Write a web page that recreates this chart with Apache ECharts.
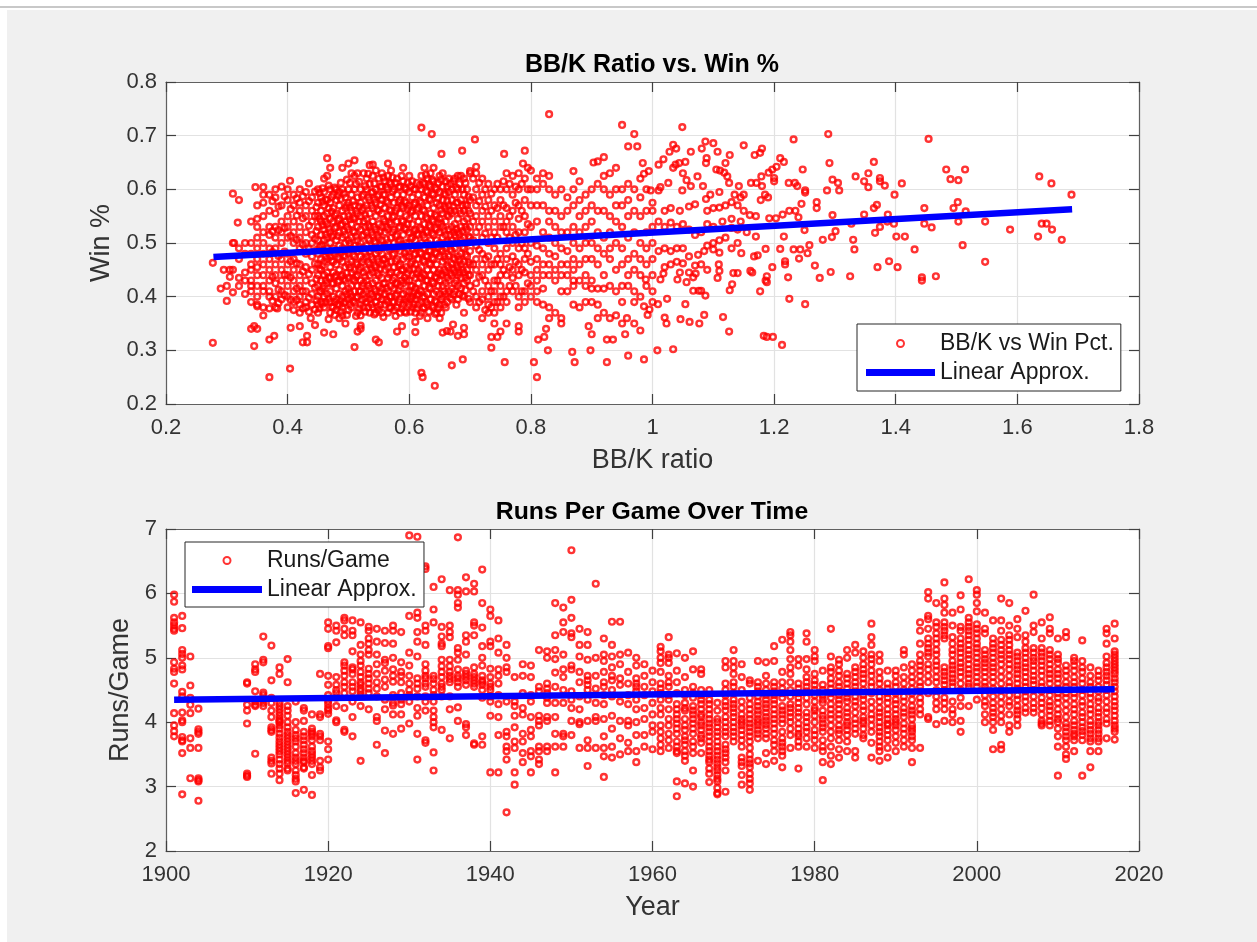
<!DOCTYPE html>
<html><head><meta charset="utf-8">
<style>html,body{margin:0;padding:0;background:#fff}#c{width:1257px;height:942px}</style>
<script src="https://cdn.jsdelivr.net/npm/echarts@6/dist/echarts.min.js"></script>
</head><body><div id="c"></div>
<script>
const title1='BB/K Ratio vs. Win %', title2='Runs Per Game Over Time';
const fit1=[[0.278,0.474],[1.69,0.563]];
const fit2=[[1901,4.35],[2017,4.51]];
// individually read points, mostly edges of the cloud
const bbkSparse=[[.277,.314],[.277,.463],[.345,.308],[.37,.25],[.404,.266],[.378,.327],[.37,.32],[.34,.34],[.345,.345],[.35,.34],[.425,.315],[.432,.315],[.432,.327],[.405,.342],[.42,.345],[.46,.333],[.475,.33],[.438,.36],[.445,.347],[.51,.306],[.515,.335],[.52,.34],[.52,.346],[.545,.32],[.55,.315],[.58,.335],[.588,.345],[.593,.312],[.61,.334],[.61,.353],[.62,.258],[.622,.25],[.642,.234],[.67,.272],[.688,.283],[.68,.327],[.69,.33],[.69,.342],[.655,.333],[.662,.336],[.668,.335],[.672,.348],[.735,.305],[.735,.325],[.745,.325],[.75,.335],[.757,.278],[.76,.35],[.78,.345],[.78,.335],[.805,.278],[.81,.25],[.812,.32],[.828,.3],[.825,.34],[.822,.325],[.868,.297],[.872,.278],[.898,.3],[.9,.33],[.895,.345],[.925,.32],[.935,.32],[.925,.278],[.96,.29],[.955,.33],[.958,.36],
[.62,.715],[.637,.703],[.83,.74],[.708,.693],[.687,.672],[.653,.666],[.756,.666],[.79,.672],[.465,.658],[.47,.64],[.51,.654],[.5,.648],[.49,.64],[.54,.646],[.565,.648],[.95,.72],[.97,.703],[.96,.68],[.975,.68],[.92,.66],[.91,.652],[.903,.65],[.787,.648],[.795,.64],[.71,.642],[.7,.634],[.83,.625],[.87,.634],[.31,.592],[.347,.604],[.36,.604],[.404,.616],[.435,.611],[.318,.538],[.312,.5],[.31,.5],[.3,.392],[.29,.415],[.3,.42],[.31,.408],[.305,.45],[.295,.45],[.31,.45],[.305,.437],[.35,.382],[.37,.378],[.383,.378],
[1.049,.716],[1.454,.694],[1.289,.703],[1.232,.693],[1.15,.682],[1.1,.686],[1.087,.689],[1.081,.676],[1.034,.683],[1.039,.676],[1.028,.67],[1.063,.67],[1.107,.67],[1.127,.664],[1.168,.664],[1.177,.668],[1.18,.676],[1.089,.658],[1.088,.649],[1.12,.649],[1.054,.651],[1.044,.649],[1.038,.646],[1.034,.64],[1.018,.656],[1.01,.646],[.984,.649],[1.21,.658],[1.216,.651],[1.204,.642],[1.197,.637],[1.191,.631],[1.179,.624],[1.2,.621],[1.2,.615],[1.105,.637],[1.111,.635],[1.118,.631],[1.123,.624],[1.126,.612],[1.05,.63],[1.056,.617],[1.074,.624],[1.063,.606],[1.083,.606],[1.049,.598],[1.026,.612],[1.013,.604],[1.01,.598],[.997,.598],[.994,.634],[.986,.629],[1.142,.606],[1.162,.612],[1.171,.612],[1.18,.606],[1.247,.637],[1.291,.649],[1.364,.651],[1.355,.63],[1.334,.624],[1.348,.615],[1.355,.604],[1.374,.621],[1.374,.615],[1.382,.607],[1.41,.611],[1.398,.59],[1.483,.637],[1.514,.637],[1.49,.619],[1.503,.617],[1.636,.624],[1.656,.611],[1.689,.59],[1.296,.618],[1.305,.612],[1.307,.598],[1.287,.598],[1.251,.598],[1.251,.594],[1.238,.606],[1.224,.612],[1.234,.612],[1.27,.576],[1.27,.565],[1.245,.573],[1.296,.552],[1.348,.553],[1.364,.565],[1.369,.571],[1.387,.553],[1.386,.54],[1.447,.565],[1.502,.576],[1.495,.565],[1.515,.559],[1.503,.54],[1.547,.54],[1.588,.525],[1.447,.536],[1.459,.529],[1.64,.536],[1.648,.536],[1.657,.525],[1.634,.512],[1.673,.506],[1.397,.536],[1.374,.53],[1.366,.519],[1.327,.536],[1.301,.522],[1.295,.511],[1.28,.506],[1.33,.506],[1.332,.488],[1.401,.512],[1.415,.512],[1.431,.488],[1.51,.496],[1.547,.465],[1.389,.466],[1.37,.455],[1.403,.455],[1.325,.438],[1.293,.446],[1.275,.435],[1.267,.458],[1.258,.496],[1.255,.481],[1.241,.471],[1.243,.488],[1.232,.488],[1.21,.489],[1.186,.489],[1.173,.477],[1.167,.475],[1.146,.481],[1.14,.5],[1.216,.512],[1.25,.524],[1.24,.548],[1.214,.553],[1.203,.546],[1.192,.546],[1.225,.56],[1.235,.56],[1.443,.436],[1.443,.43],[1.466,.438],[1.251,.386],[1.225,.396],[1.223,.436],[1.218,.46],[1.218,.466],[1.197,.455],[1.188,.438],[1.188,.427],[1.186,.43],[1.177,.41],[1.161,.448],[1.164,.445],[1.133,.444],[1.14,.444],[1.131,.423],[1.127,.412],[1.107,.435],[1.109,.46],[1.11,.448],[1.087,.402],[1.08,.411],[1.076,.411],[1.067,.411],[1.071,.443],[1.067,.436],[1.056,.427],[1.041,.432],[1.018,.443],[1.013,.432],[.989,.432],[1.054,.386],[1.024,.396],[1.009,.386],[1,.39],[.995,.376],[.992,.366],[.986,.382],[1.02,.361],[1.023,.35],[1.046,.358],[1.061,.353],[1.077,.35],[1.085,.366],[1.116,.362],[1.126,.335],[1.183,.327],[1.188,.325],[1.198,.325],[1.213,.31],[1.034,.302],[1.008,.3],[.986,.283],[.98,.337],
[1.13,.576],[1.12,.57],[1.11,.566],[1.1,.565],[1.09,.56],[1.14,.57],[1.15,.56],[1.16,.552],[1.17,.55],[1.178,.58],[1.185,.59],[1.19,.585],[1.135,.59],[1.145,.585],[1.15,.59],[1.11,.595],[1.095,.59],[1.088,.582],[1.07,.572],[1.06,.568],[1.045,.56],[1.03,.565],[1.02,.56],[1,.575],[1.13,.528],[1.14,.525],[1.155,.52],[1.17,.512],[1.12,.51],[1.11,.505],[1.1,.5],[1.09,.495],[1.13,.49],[1.11,.482],[1.1,.488],[1.085,.485],[1.075,.478],[1.06,.475],[1.05,.49],[1.04,.49],[1.03,.485],[1.02,.49],[1.01,.485],[1.08,.52],[1.07,.515],[1.06,.525],[1.05,.535],[1.04,.53],[1.03,.538],[1.02,.53],[1.01,.54],[1.09,.535],[1.1,.53],[1.115,.54],[1.13,.545],[1.145,.54],[1.09,.45],[1.08,.46],[1.07,.458],[1.05,.462],[1.04,.465],[1.03,.46],[1.02,.455],[1.06,.445],[1.045,.445]];
// denser columns in the middle of the cloud, read as bands
const bbkColumns=[
[.32,[.58,.47,.435,.42,.49]],[.33,[.405,.48,.5,.445,.43]],[.34,[.54,.5,.43,.45,.41,.39,.42,.46,.48]],[.35,[.545,.53,.51,.49,.47,.455,.44,.42,.4,.385,.57]],[.36,[.59,.575,.55,.52,.5,.48,.46,.44,.42,.41,.38,.365]],[.37,[.59,.56,.53,.515,.49,.47,.45,.43,.41,.4]],[.38,[.6,.585,.555,.53,.51,.49,.46,.44,.425,.4,.38]],[.39,[.605,.57,.54,.52,.5,.47,.45,.43,.41,.395]],[.4,[.6,.58,.55,.53,.51,.48,.46,.44,.42,.4,.38]],[.41,[.59,.57,.54,.52,.5,.47,.45,.43,.41,.39,.375]],[.42,[.6,.575,.56,.53,.51,.49,.46,.44,.42,.4,.385,.37]],[.43,[.595,.57,.55,.52,.5,.48,.455,.43,.41,.39,.38]],[.44,[.585,.56,.54,.515,.5,.475,.45,.425,.405,.385]],[.45,[.6,.575,.55,.53,.505,.48,.46,.44,.42,.4,.385,.37]],
[.455,[.585,.56,.54,.515,.495,.47,.45,.43,.41,.39]],[.46,[.62,.595,.57,.55,.525,.505,.485,.465,.44,.42,.4,.38]],[.465,[.625,.58,.555,.535,.51,.49,.47,.445,.425,.405]],[.47,[.6,.575,.545,.52,.5,.475,.455,.435,.41,.39,.37]],[.475,[.59,.565,.54,.515,.49,.465,.445,.425,.4,.38]],[.48,[.6,.58,.555,.53,.505,.485,.46,.44,.415,.395,.375]],[.485,[.595,.57,.545,.52,.495,.47,.45,.43,.405,.385,.36]],[.49,[.6,.56,.535,.51,.49,.465,.44,.42,.4,.38,.365]],[.495,[.585,.565,.54,.515,.5,.475,.455,.43,.41,.39,.35]],[.5,[.6,.575,.55,.525,.505,.48,.46,.435,.415,.395,.375]],
[.505,[.63,.59,.56,.535,.51,.49,.465,.445,.42,.4,.38]],[.51,[.625,.6,.57,.545,.52,.495,.475,.45,.43,.41,.39]],[.515,[.63,.585,.555,.53,.505,.485,.46,.44,.42,.4,.37]],[.52,[.6,.575,.55,.525,.5,.475,.455,.43,.41,.385,.365]],[.525,[.63,.59,.565,.54,.515,.49,.47,.445,.425,.405,.38]],[.53,[.62,.6,.57,.545,.52,.495,.475,.45,.43,.41,.39]],[.535,[.645,.61,.58,.555,.53,.505,.485,.46,.44,.415,.395,.37]],[.54,[.625,.595,.565,.54,.515,.49,.47,.445,.425,.4,.38]],[.545,[.635,.6,.575,.55,.525,.5,.48,.455,.43,.41,.39,.37]],[.55,[.62,.59,.56,.535,.51,.485,.465,.44,.42,.4,.375]],
[.555,[.63,.605,.58,.555,.53,.505,.48,.46,.435,.415,.395,.37]],[.56,[.615,.59,.565,.54,.52,.495,.47,.45,.425,.405,.385]],[.565,[.625,.6,.575,.55,.525,.5,.475,.455,.435,.41,.39,.37]],[.57,[.635,.61,.585,.56,.535,.51,.49,.465,.445,.42,.4,.38]],[.575,[.6,.575,.55,.525,.5,.48,.455,.435,.415,.39,.375]],[.58,[.62,.59,.565,.54,.515,.49,.47,.445,.425,.405,.38]],[.585,[.605,.58,.555,.53,.505,.485,.46,.44,.42,.395,.37]],[.59,[.64,.615,.59,.565,.54,.515,.495,.47,.45,.425,.405,.385]],[.595,[.6,.575,.55,.525,.5,.475,.455,.43,.41,.39,.37]],[.6,[.625,.595,.57,.545,.52,.5,.475,.45,.43,.41,.385]],
[.605,[.615,.585,.56,.535,.51,.49,.465,.44,.42,.4,.38]],[.61,[.6,.575,.55,.525,.505,.48,.46,.435,.415,.395,.37]],[.615,[.59,.565,.54,.515,.495,.47,.45,.425,.405,.385]],[.62,[.625,.6,.575,.55,.525,.5,.48,.455,.435,.41,.39,.37]],[.625,[.64,.61,.585,.56,.535,.51,.49,.465,.44,.42,.4,.38]],[.63,[.62,.595,.57,.545,.52,.5,.475,.45,.43,.405,.385,.36]],[.635,[.63,.605,.58,.555,.53,.505,.485,.46,.44,.415,.395]],[.64,[.64,.615,.59,.565,.54,.515,.495,.47,.45,.425,.405,.38]],[.645,[.6,.575,.55,.525,.505,.48,.46,.435,.41,.39,.37]],[.65,[.625,.595,.57,.545,.52,.5,.475,.45,.43,.405,.385,.36]],
[.655,[.63,.605,.58,.555,.53,.51,.485,.465,.44,.42,.4]],[.66,[.615,.59,.565,.54,.515,.49,.47,.445,.425,.405,.38]],[.665,[.62,.595,.57,.55,.525,.5,.475,.455,.43,.41]],[.67,[.6,.58,.555,.53,.505,.485,.46,.44,.415,.395]],[.675,[.62,.59,.56,.535,.515,.49,.47,.445,.425,.41]],[.68,[.625,.6,.575,.545,.52,.5,.475,.455,.44,.42,.395]],[.685,[.625,.58,.555,.53,.505,.48,.46,.435,.415]],[.69,[.62,.59,.56,.54,.51,.49,.465,.445,.425,.4,.37]],[.695,[.6,.57,.545,.525,.5,.475,.45,.43]],[.7,[.63,.58,.555,.53,.51,.485,.46,.44,.42,.39]],
[.71,[.63,.6,.57,.55,.52,.495,.47,.45,.425,.4,.38]],[.72,[.62,.59,.56,.54,.51,.48,.46,.44,.41,.395,.36]],[.73,[.61,.58,.55,.53,.5,.475,.45,.42,.4,.385,.37]],[.74,[.6,.57,.54,.52,.49,.46,.43,.41,.39,.37,.35]],[.75,[.6,.58,.55,.53,.48,.46,.44,.42,.4,.38]],[.76,[.63,.6,.565,.54,.52,.49,.47,.44,.41,.39]],[.77,[.625,.59,.56,.53,.5,.475,.45,.435,.41]],[.78,[.63,.6,.57,.545,.52,.49,.46,.44,.4,.38]],[.79,[.62,.58,.55,.52,.49,.47,.445,.41,.39]],[.8,[.635,.6,.57,.53,.5,.465,.44,.42,.4]],
[.81,[.62,.6,.57,.54,.495,.47,.45,.43,.41,.39]],[.82,[.63,.61,.57,.52,.49,.46,.44,.415,.385]],[.83,[.6,.56,.54,.51,.48,.46,.44,.38,.36]],[.84,[.59,.56,.53,.5,.475,.45,.43,.37]],[.85,[.6,.55,.52,.49,.46,.44,.41,.36,.35]],[.86,[.585,.56,.52,.485,.46,.44,.41]],[.87,[.6,.57,.53,.5,.47,.45,.43,.42,.385]],[.88,[.615,.58,.55,.52,.49,.46,.43,.38]],[.89,[.59,.56,.53,.5,.47,.44,.42,.39]],[.9,[.6,.57,.54,.5,.47,.43,.415,.39]],
[.91,[.61,.56,.52,.49,.46,.415,.385,.36]],[.92,[.625,.6,.56,.51,.48,.44,.415,.37]],[.93,[.63,.59,.55,.52,.49,.47,.42,.36]],[.94,[.64,.6,.57,.54,.5,.45,.41,.365]],[.95,[.6,.57,.53,.49,.46,.42,.39,.35]],[.96,[.61,.58,.55,.51,.47,.44,.42]],[.97,[.6,.56,.52,.48,.45,.41,.39,.35]],[.98,[.62,.585,.55,.5,.47,.44,.4]],[.99,[.6,.56,.52,.49,.46,.42]],[1,[.56,.53,.5,.47,.44,.41]]
];
// second pass through the solid core, between the bands above
const bbkCore=[
[.375,[.578,.522,.483,.437,.392]],[.385,[.568,.524,.476,.413,.388]],[.395,[.587,.528,.484,.441,.403]],[.405,[.563,.513,.466,.436,.394]],[.415,[.583,.551,.506,.462,.415,.394]],[.425,[.587,.546,.497,.447,.41,.378]],[.435,[.578,.532,.489,.442,.398,.372]],[.445,[.596,.55,.508,.462,.417,.376]],
[.4475,[.567,.522,.487,.433,.393]],[.4525,[.593,.545,.493,.452,.41,.378]],[.4575,[.602,.577,.533,.497,.458,.415,.387]],[.4625,[.581,.54,.516,.475,.431,.39]],[.4675,[.607,.565,.527,.482,.436,.396,.358]],[.4725,[.586,.558,.512,.467,.424,.381]],[.4775,[.603,.552,.528,.48,.437,.39,.366]],[.4825,[.588,.542,.513,.474,.428,.386]],[.4875,[.612,.582,.533,.483,.438,.392,.372]],[.4925,[.592,.55,.522,.477,.433,.388]],[.4975,[.618,.57,.53,.487,.444,.404,.366]],
[.5025,[.612,.566,.544,.499,.454,.407,.386]],[.5075,[.578,.547,.522,.478,.433,.392]],[.5125,[.61,.56,.512,.463,.437,.398,.364]],[.5175,[.614,.568,.54,.493,.45,.41,.378]],[.5225,[.587,.561,.513,.464,.42,.394]],[.5275,[.606,.552,.53,.482,.437,.397,.372]],[.5325,[.629,.585,.533,.508,.464,.421,.38]],[.5375,[.594,.57,.52,.474,.452,.405,.386]],[.5425,[.611,.581,.53,.503,.458,.414,.367]],[.5475,[.587,.562,.515,.47,.444,.4,.381]],
[.5525,[.605,.572,.522,.496,.452,.408,.385]],[.5575,[.622,.59,.544,.492,.469,.424,.362]],[.5625,[.604,.578,.53,.507,.462,.416,.394]],[.5675,[.613,.562,.538,.488,.442,.4,.379]],[.5725,[.622,.596,.548,.52,.478,.43,.39]],[.5775,[.612,.56,.513,.466,.424,.402,.364]],[.5825,[.604,.576,.528,.502,.457,.412,.39]],[.5875,[.625,.569,.542,.497,.45,.43,.378]],[.5925,[.603,.578,.528,.482,.436,.395,.372]],[.5975,[.612,.563,.535,.489,.443,.398]],
[.6025,[.606,.558,.508,.462,.42,.396,.372]],[.6075,[.6,.572,.522,.478,.452,.408,.386]],[.6125,[.612,.562,.517,.492,.443,.402,.378]],[.6175,[.608,.578,.528,.482,.437,.412,.364]],[.6225,[.612,.562,.515,.468,.442,.398,.378]],[.6275,[.627,.597,.548,.522,.476,.43,.39]],[.6325,[.608,.582,.533,.486,.462,.417,.372]],[.6375,[.618,.592,.543,.518,.472,.428,.383]],[.6425,[.603,.553,.528,.482,.437,.392,.368]],[.6475,[.612,.583,.538,.492,.444,.42,.378]],
[.6525,[.618,.562,.536,.488,.442,.395,.37]],[.6575,[.592,.568,.523,.475,.45,.41,.385]],[.6625,[.605,.578,.552,.503,.458,.436,.39]],[.6675,[.61,.56,.515,.488,.443,.398]],[.6725,[.615,.568,.52,.472,.452,.404]],[.6775,[.603,.575,.526,.503,.458,.43,.385]],[.6825,[.61,.56,.517,.468,.445,.405]],[.6875,[.6,.57,.522,.492,.45,.402]],[.6925,[.612,.572,.53,.478,.436,.412]],[.6975,[.586,.56,.512,.464,.44,.396]],
[.705,[.62,.585,.54,.505,.46,.41]],[.715,[.612,.578,.53,.487,.437,.39]],[.725,[.6,.568,.518,.47,.43,.375]],[.735,[.592,.56,.51,.46,.41,.38]],[.745,[.61,.565,.51,.47,.43,.39]],[.755,[.615,.57,.53,.45,.4]],[.765,[.61,.55,.51,.455,.42]],[.775,[.605,.575,.515,.465,.42]],[.785,[.61,.56,.5,.45,.41]],[.795,[.6,.535,.48,.425]]
];
const runsByYear=[
[1901,[5.98,5.87,5.62,5.55,5.5,5.45,5.42,4.93,4.83,4.78,4.6,4.14,3.95,3.86,3.78]],
[1902,[5.65,5.46,5.12,5.06,5,4.88,4.82,4.47,4.4,4.15,4.03,4,3.77,3.72,3.7,3.52,2.88]],
[1903,[5.02,4.57,4.38,4.27,4.14,3.75,3.6,3.13]],
[1904,[4.21,3.89,3.85,3.82,3.6,3.13,3.1,3.08,2.78]],
[1910,[4.62,4.6,4.27,4.18,3.98,3.2,3.17,3.15]],
[1911,[4.9,4.82,4.78,4.48,4.32,4.27,4.25,3.51]],
[1912,[5.33,4.97,4.93,4.46,4.42,4.35,4.3,4.25]],
[1913,[5.19,4.65,4.38,4.3,4.18,4.08,3.92,3.88,3.85,3.45,3.4,3.36,3.2]],
[1914,[4.85,4.75,4.3,4.25,4.2,4.15,4.1,4.05,4,3.95,3.9,3.7,3.65,3.6,3.55,3.42,3.35,3.28,3.2,3.1]],
[1915,[4.98,4.62,4.25,4.18,4.1,4,3.85,3.8,3.75,3.7,3.65,3.6,3.55,3.5,3.45,3.28,3.25]],
[1916,[4.32,4,3.88,3.8,3.75,3.7,3.52,3.4,3.35,3.25,3.12,3.08,2.9]],
[1917,[4.22,4.18,4.02,3.85,3.78,3.65,3.52,3.45,3.38,3.3,3.28,2.95]],
[1918,[4.12,3.9,3.85,3.78,3.72,3.55,3.45,3.4,3.35,3.18,2.87]],
[1919,[4.75,4.12,4.08,3.82,3.78,3.72,3.4,3.3,3.25]],
[1920,[5.55,5.45,5.18,5.15,4.72,4.58,4.42,4.33,4.28,4.22,4.18,4.13,3.7,3.58,3.42]],
[1921,[5.5,5.42,5.24,4.7,4.58,4.5,4.45,4.38,4.25,4.03,4]],
[1922,[5.62,5.58,5.45,5.35,4.93,4.88,4.8,4.62,4.45,4.22,3.88,3.85]],
[1923,[5.58,5.42,5.35,5.1,4.85,4.82,4.62,4.55,4.32,4.08,3.78]],
[1924,[5.55,5.2,5.05,4.88,4.78,4.7,4.62,4.52,4.42,4.25,3.4]],
[1925,[5.48,5.42,5.3,5.22,5.05,4.83,4.68,4.6,4.52,4.2]],
[1926,[5.45,5.25,5.05,4.9,4.75,4.52,4.08,4.02,3.65]],
[1927,[5.42,5.23,4.97,4.92,4.66,4.35,4.2,3.87,3.52]],
[1928,[5.5,5.42,5.22,5,4.82,4.63,4.3,4.26,4.12,3.82]],
[1929,[5.4,4.93,4.78,4.72,4.45,4.28,4.12,3.9]],
[1930,[6.9,5.65,5.08,4.88,4.72,4.5,4.32,3.98]],
[1931,[6.88,5.7,5.62,5.4,5.25,5.02,4.68,4.52,4.22,4.1,3.82,3.42]],
[1932,[6.42,6.38,5.5,5.42,5.2,4.9,4.8,4.68,4.55,4.4,4.18,3.72,3.68]],
[1933,[6.1,5.75,5.55,4.67,4.6,4.5,4.32,4.18,4.08,4,3.92,3.53,3.25]],
[1934,[6.22,5.48,5.33,5.22,5.18,4.97,4.87,4.7,4.6,4.5,4.4,3.88]],
[1935,[6.05,5.5,5.4,5.32,4.97,4.87,4.72,4.62,4.4,4.2,3.75]],
[1936,[6.87,6.05,5.98,5.85,5.78,5.15,5.08,4.97,4.82,4.68,4.62,4.23,4.02]],
[1937,[6.25,6.03,5.35,5.25,5.05,4.8,4.7,4.58,3.97,3.92,3.8]],
[1938,[6.15,6.03,5.55,5.5,5.35,4.85,4.75,4.65,4.6,3.67,3.65]],
[1939,[6.37,5.85,5.47,5.18,5,4.88,4.65,4.58,4.5,4.38,3.78,3.65]],
[1940,[5.75,5.65,5.25,5.18,4.83,4.7,4.55,4.4,4.32,4.1,3.22]],
[1941,[5.58,5.3,5.08,4.82,4.72,4.6,4.42,4.28,4.08,3.8,3.22]],
[1942,[5.2,5,4.85,4.78,4.32,3.85,3.78,3.62,3.55,3.42,2.6]],
[1943,[4.7,4.32,4.25,4.1,3.92,3.7,3.6,3.22,3.03]],
[1944,[4.9,4.72,4.45,4.22,4.12,3.82,3.7,3.52,3.38]],
[1945,[4.88,4.7,4.42,4.32,4.08,3.88,3.78,3.55,3.47,3.22]],
[1946,[5.12,4.55,4.48,4.1,4.02,3.95,3.62,3.55,3.42,3.35]],
[1947,[5.1,5,4.6,4.52,4.38,4.08,4.02,3.62,3.55]],
[1948,[5.85,5.35,5.12,4.98,4.77,4.55,4.3,4.08,3.82,3.62,3.22]],
[1949,[5.78,5.55,5.4,5.05,4.82,4.7,4.5,4.3,3.82,3.78,3.62]],
[1950,[6.67,5.9,5.62,5.38,5.32,4.88,4.82,4.48,4.35,4.22,4.02,3.8]],
[1951,[5.45,5.2,5.02,4.78,4.62,4.4,4.2,4,3.97,3.6]],
[1952,[5.4,5.2,4.97,4.72,4.58,4.35,4.02,3.72,3.6,3.32]],
[1953,[6.15,5,4.72,4.52,4.3,4.08,4.02,3.6]],
[1954,[5.3,5.05,4.95,4.78,4.55,4.28,4.05,3.78,3.6,3.47,3.15]],
[1955,[5.56,5.2,5.02,4.85,4.65,4.4,4.1,3.9,3.62,3.45]],
[1956,[5.56,5.05,4.9,4.68,4.58,4.32,4.02,3.75,3.5]],
[1957,[5.08,4.78,4.6,4.42,4.28,4.02,3.95,3.68,3.55]],
[1958,[5,4.88,4.68,4.55,4.35,4.2,4,3.8,3.55,3.38]],
[1959,[4.9,4.72,4.55,4.42,4.22,4.05,3.8,3.62]],
[1960,[4.8,4.62,4.48,4.3,4.12,3.95,3.85,3.58]],
[1961,[5.17,5.1,5,4.78,4.6,4.45,4.22,4.12,3.85,3.75,3.65,3.55]],
[1962,[5.32,5.05,5,4.92,4.72,4.55,4.35,4.2,3.95,3.72,3.6]],
[1963,[5.07,4.8,4.62,4.45,4.28,4.12,3.98,3.82,3.7,3.55,3.52,3.08,2.85]],
[1964,[5,4.7,4.5,4.3,4.18,4.05,3.95,3.78,3.65,3.55,3.4,3.05]],
[1965,[5.1,4.82,4.55,4.38,4.25,4.12,3.98,3.82,3.7,3.52,3.25,3.0]],
[1966,[4.82,4.75,4.5,4.35,4.2,4.08,3.95,3.8,3.68,3.52]],
[1967,[4.5,4.35,4.2,4.05,3.92,3.78,3.62,3.48,3.38,3.28,3.2,3.07]],
[1968,[4.3,4.18,4,3.85,3.7,3.55,3.42,3.3,3.18,3.08,2.98,2.9,2.88]],
[1969,[4.95,4.85,4.6,4.42,4.25,4.08,3.92,3.85,3.65,3.52,3.38,3.25,2.92]],
[1970,[5.12,4.95,4.85,4.62,4.45,4.28,4.15,4,3.85,3.7]],
[1971,[4.9,4.7,4.5,4.32,4.12,4,3.88,3.72,3.45,3.38,3.32,3.18,3.03]],
[1972,[4.65,4.6,4.38,4.2,4.05,3.92,3.78,3.6,3.42,3.3,3.2,3.05,2.95]],
[1973,[4.95,4.62,4.55,4.4,4.25,4.12,4,3.88,3.75,3.4]],
[1974,[4.93,4.72,4.6,4.42,4.28,4.15,4.02,3.9,3.75,3.52,3.35]],
[1975,[5.18,4.95,4.62,4.48,4.35,4.2,4.05,3.82,3.65,3.55,3.4]],
[1976,[5.28,4.78,4.62,4.45,4.25,4.12,3.85,3.75,3.62,3.48,3.3]],
[1977,[5.4,5.35,5.25,5.12,4.98,4.75,4.5,4.28,4.15,4,3.8,3.6]],
[1978,[4.98,4.88,4.6,4.45,4.3,4.15,3.98,3.82,3.7,3.62,3.28]],
[1979,[5.38,5.25,4.98,4.82,4.7,4.55,4.38,4.15,4,3.75,3.62]],
[1980,[5.12,5.02,4.95,4.75,4.58,4.42,4.22,4.1,3.88,3.72,3.6]],
[1981,[4.8,4.58,4.42,4.3,4.1,3.98,3.85,3.62,3.55,3.38,3.1]],
[1982,[5.45,5.02,4.85,4.68,4.52,4.38,4.2,4.05,3.75,3.62,3.48,3.35]],
[1983,[4.97,4.9,4.72,4.55,4.42,4.28,4.12,3.95,3.82,3.58,3.45]],
[1984,[5.12,5,4.75,4.6,4.45,4.32,4.15,4,3.88,3.7,3.55]],
[1985,[5.2,5.08,4.85,4.7,4.55,4.4,4.25,4.05,3.9,3.55,3.45]],
[1986,[5.1,5,4.9,4.75,4.6,4.42,4.25,4.08,3.98,3.8,3.75]],
[1987,[5.53,5.32,5.2,5.05,4.9,4.72,4.55,4.32,4.12,3.95,3.68,3.45]],
[1988,[5.05,4.95,4.78,4.6,4.4,4.15,4,3.85,3.7,3.55,3.4]],
[1989,[4.8,4.6,4.45,4.3,4.12,3.98,3.88,3.72,3.6,3.45]],
[1990,[4.8,4.72,4.55,4.35,4.2,4.05,3.95,3.68,3.55]],
[1991,[5.12,5.05,4.85,4.7,4.5,4.32,4.15,3.98,3.72,3.62]],
[1992,[4.9,4.8,4.62,4.45,4.25,4.12,3.95,3.85,3.72,3.6,3.38]],
[1993,[5.55,5.42,5.22,5.05,4.88,4.72,4.55,4.3,4.2,4.12,3.6]],
[1994,[6.02,5.92,5.65,5.45,5.3,5.15,5.02,4.9,4.72,4.45,4.08,4.05]],
[1995,[5.85,5.55,5.48,5.3,5.12,4.95,4.8,4.62,4.4,4.2,3.97]],
[1996,[6.17,5.92,5.82,5.7,5.55,5.42,5.3,4.85,4.72,4.58,4.3,4.2,4.02]],
[1997,[5.7,5.5,5.32,5.12,4.95,4.82,4.68,4.55,4.2,4.12,4]],
[1998,[5.97,5.75,5.42,5.3,5.15,5,4.85,4.7,4.38,4.25,4.02,3.85]],
[1999,[6.22,5.62,5.55,5.42,5.28,5.12,4.98,4.82,4.68,4.55,4.25]],
[2000,[6.05,5.98,5.85,5.72,5.52,5.38,5.22,5.08,4.92,4.78,4.62,4.35]],
[2001,[5.7,5.45,5.38,5.05,4.92,4.78,4.62,4.5,4.25,4.12,4]],
[2002,[5.58,5.3,5.15,5,4.85,4.7,4.52,4.3,4.15,4,3.88,3.58]],
[2003,[5.92,5.58,5.42,5.28,5.12,4.98,4.8,4.6,4.4,4.2,4,3.65,3.58]],
[2004,[5.85,5.5,5.35,5.2,5.05,4.9,4.72,4.55,4.25,4.12,3.95,3.85]],
[2005,[5.6,5.45,5.32,5.02,4.88,4.75,4.6,4.42,4.25,4.12,3.95]],
[2006,[5.73,5.35,5.25,5.08,4.92,4.78,4.62,4.48,4.32,4.15]],
[2007,[5.98,5.5,5.4,5.08,4.95,4.8,4.65,4.5,4.3,4.15]],
[2008,[5.55,5.3,5.15,5.02,4.88,4.72,4.55,4.38,4.22,3.98,3.95]],
[2009,[5.63,5.45,5.38,5.05,4.9,4.75,4.6,4.42,4.25,4.1,3.95]],
[2010,[5.3,5.05,4.92,4.75,4.6,4.45,4.3,4.12,4,3.78,3.62,3.17]],
[2011,[5.4,5.32,4.88,4.72,4.55,4.38,4.18,3.98,3.85,3.72,3.62,3.5,3.43]],
[2012,[5,4.95,4.8,4.62,4.45,4.28,4.12,3.95,3.82,3.72,3.55]],
[2013,[5.27,4.95,4.78,4.6,4.42,4.25,4.08,3.92,3.8,3.72,3.17]],
[2014,[4.85,4.72,4.55,4.38,4.2,4.02,3.88,3.75,3.55,3.3]],
[2015,[4.8,4.65,4.48,4.32,4.15,4,3.88,3.75,3.55]],
[2016,[5.45,5.38,5.22,5.02,4.85,4.72,4.58,4.42,4.15,4.05,3.75]],
[2017,[5.53,5.3,5.1,5,4.9,4.8,4.68,4.55,4.4,4.25,4.1,3.95,3.85,3.73]]
];
// second pass: the stacks that read as solid stripes in each year
const runsExtra=[
[1914,[4.02,3.82,3.76,3.5]],[1915,[3.92,3.4,3.36]],[1916,[3.62,3.45,3.18]],[1917,[3.72,3.58,3.4]],[1918,[3.82,3.62,3.5]],
[1922,[4.72,4.55]],[1923,[4.75,4.48]],[1924,[4.95,4.58,4.48]],[1925,[5.12,4.75,4.45]],[1926,[4.62,4.4]],[1927,[4.8,4.55]],[1928,[4.72,4.42]],[1929,[4.62,4.35]],[1930,[4.6,4.42]],[1931,[4.6,4.4]],[1932,[4.72,4.6,4.32]],[1933,[4.72,4.42]],[1934,[4.78,4.55]],[1935,[4.78,4.67]],[1936,[4.72,4.55]],[1937,[4.65,4.75]],[1938,[4.7,4.55]],[1939,[4.72,4.62]],[1940,[4.6,4.5]],
[1947,[4.45,4.3]],[1952,[4.65,4.5]],[1954,[4.62,4.42]],[1955,[4.72,4.5]],[1958,[4.6,4.48]],
[1961,[4.92,4.52,4.35,3.95]],[1962,[4.62,4.42,4.05,3.82]],[1963,[4.2,4.05,3.9,3.62]],[1964,[4.42,4.22,3.88,3.72,3.48]],[1965,[4.45,4.18,4.05,3.9,3.62]],[1966,[4.42,4.28,4.12,4,3.88,3.75]],[1967,[4.28,4.12,3.98,3.85,3.7,3.55,3.42]],[1968,[4.05,3.92,3.78,3.62,3.48,3.36,3.25,3.12]],[1969,[4.5,4.32,4.18,4,3.78,3.58,3.45]],[1970,[4.75,4.55,4.35,4.22,4.08,3.92,3.78]],[1971,[4.22,4.05,3.95,3.8,3.62]],[1972,[4.28,4.12,3.98,3.85,3.7,3.5,3.36,3.12]],[1973,[4.48,4.32,4.18,4.05,3.95,3.82]],[1974,[4.5,4.35,4.22,4.08,3.96,3.82]],[1975,[4.55,4.42,4.28,4.12,3.98,3.9,3.72]],[1976,[4.52,4.38,4.18,4.05,3.98,3.68,3.55]],[1977,[4.85,4.62,4.4,4.22,4.08,3.9]],[1978,[4.52,4.38,4.22,4.08,3.9,3.78]],[1979,[4.62,4.48,4.28,4.08,3.92,3.85]],[1980,[4.65,4.5,4.32,4.18,4,3.8]],[1981,[4.5,4.35,4.18,4.05,3.92,3.72]],[1982,[4.78,4.6,4.45,4.28,4.12,3.95,3.85]],[1983,[4.8,4.62,4.48,4.35,4.2,4.05,3.88,3.72]],[1984,[4.68,4.52,4.38,4.22,4.08,3.95,3.8]],[1985,[4.78,4.62,4.48,4.32,4.15,3.98,3.82]],[1986,[4.82,4.68,4.5,4.35,4.18,4.02,3.9]],[1987,[4.98,4.8,4.62,4.45,4.22,4.05,3.85]],[1988,[4.68,4.5,4.32,4.22,4.08,3.92,3.78,3.62]],[1989,[4.52,4.38,4.2,4.05,3.95,3.8]],[1990,[4.62,4.45,4.28,4.12,4,3.88,3.78]],[1991,[4.6,4.4,4.22,4.08,3.9,3.82]],[1992,[4.7,4.52,4.35,4.18,4.05,3.9,3.78]],[1993,[4.95,4.8,4.62,4.48,4.38]],
[1994,[5.6,5.22,5.08,4.82,4.62]],[1995,[5.38,5.22,5.05,4.88,4.7,4.5,4.3]],[1996,[5.48,5.35,4.78,4.65,4.5,4.38]],[1997,[5.22,5.05,4.88,4.75,4.62,4.32]],[1998,[5.48,5.22,5.08,4.92,4.78,4.6,4.5]],[1999,[5.48,5.35,5.2,5.05,4.9,4.75,4.6]],[2000,[5.45,5.3,5.15,5,4.85,4.7,4.55]],[2001,[5.12,4.98,4.85,4.7,4.55,4.42,4.32]],[2002,[5.22,5.08,4.92,4.78,4.62,4.4,4.22,4.08]],[2003,[5.2,5.05,4.9,4.7,4.5,4.3,4.1]],[2004,[5.28,5.12,4.98,4.82,4.62,4.42,4.32]],[2005,[5.08,4.95,4.82,4.68,4.52,4.35,4.18,4.05]],[2006,[5.15,5,4.85,4.7,4.55,4.4,4.22]],[2007,[5.15,5,4.88,4.72,4.58,4.4,4.22]],[2008,[5.08,4.95,4.8,4.62,4.48,4.3,4.12,4.02]],[2009,[5.12,4.98,4.82,4.68,4.5,4.32,4.18,4.02]],[2010,[4.98,4.82,4.68,4.52,4.38,4.2,4.05,3.9]],[2011,[4.8,4.62,4.45,4.28,4.08,3.92,3.78]],[2012,[4.88,4.7,4.55,4.38,4.2,4.02,3.88,3.78]],[2013,[4.85,4.68,4.5,4.32,4.15,4,3.86]],[2014,[4.62,4.45,4.28,4.12,3.95,3.82,3.7]],[2015,[4.72,4.55,4.38,4.22,4.08,3.95,3.82,3.7]],[2016,[4.92,4.78,4.65,4.5,4.32,4.22,3.98]],[2017,[5.05,4.95,4.85,4.75,4.62,4.48,4.32,4.18,4.02,3.9]]
];
const bbkPoints=bbkSparse.concat(...bbkColumns.concat(bbkCore).map(c=>c[1].map(y=>[c[0],y])));
const runPoints=[].concat(...runsByYear.concat(runsExtra).map(r=>r[1].map(v=>[r[0],v])));

const font='"Liberation Sans",Arial,sans-serif', ink='#333333';
const axisBase={axisLine:{onZero:false,lineStyle:{color:'#606060',width:1.2}},
 axisTick:{inside:true,length:10,lineStyle:{color:'#404040',width:1.2}},
 splitLine:{show:true,lineStyle:{color:'#e2e2e2',width:1.2}},
 nameLocation:'middle',nameTextStyle:{color:ink,fontFamily:font,fontSize:27}};
const xLabel={color:ink,fontFamily:font,fontSize:22,margin:13};
const yLabel={color:ink,fontFamily:font,fontSize:22,margin:9};
const mirror={axisLine:{lineStyle:{color:'#606060',width:1.2}},axisTick:{inside:true,length:10,lineStyle:{color:'#404040',width:1.2}},axisLabel:{show:false},splitLine:{show:false}};
const ring={color:'rgba(0,0,0,0)',borderColor:'#ff0000',borderWidth:2.4};
const fitLine={type:'line',showSymbol:false,symbol:'none',lineStyle:{color:'#0000ff',width:6.5},itemStyle:{color:'#0000ff'},z:5,silent:true};
const legendBase={orient:'vertical',itemHeight:7,itemGap:6,backgroundColor:'#fff',borderColor:'#262626',borderWidth:1,borderRadius:0,selectedMode:false,textStyle:{color:'#1a1a1a',fontFamily:font,fontSize:23},z:10};
const lineIcon=n=>({name:n,icon:'rect',itemStyle:{color:'#0000ff',borderWidth:0}});

const chart=echarts.init(document.getElementById('c'),null,{renderer:'canvas',width:1257,height:942});
chart.setOption({
 animation:false,backgroundColor:'#ffffff',
 graphic:[{type:'rect',shape:{x:7,y:10,width:1250,height:932},style:{fill:'#f0f0f0'},z:-10},
          {type:'rect',shape:{x:0,y:6,width:1257,height:2},style:{fill:'#c8c8c8'},z:-10}],
 title:[{text:title1,left:647,top:48,textAlign:'center',textStyle:{fontFamily:font,fontSize:25,fontWeight:'bold',color:'#000'}},
        {text:title2,left:647,top:495,textAlign:'center',textStyle:{fontFamily:font,fontSize:24.8,fontWeight:'bold',color:'#000'}}],
 grid:[{left:166,width:973,top:82,height:322,backgroundColor:'#fff',show:true,borderWidth:0},
       {left:166,width:973,top:529,height:322,backgroundColor:'#fff',show:true,borderWidth:0}],
 xAxis:[{...axisBase,axisLabel:xLabel,type:'value',gridIndex:0,min:0.2,max:1.8,interval:0.2,name:'BB/K ratio',nameGap:43},
        {...mirror,type:'value',gridIndex:0,position:'top',min:0.2,max:1.8,interval:0.2},
        {...axisBase,axisLabel:{...xLabel,formatter:v=>String(v)},type:'value',gridIndex:1,min:1900,max:2020,interval:20,name:'Year',nameGap:43},
        {...mirror,type:'value',gridIndex:1,position:'top',min:1900,max:2020,interval:20}],
 yAxis:[{...axisBase,axisLabel:yLabel,type:'value',gridIndex:0,min:0.2,max:0.8,interval:0.1,name:'Win %',nameGap:46},
        {...mirror,type:'value',gridIndex:0,position:'right',min:0.2,max:0.8,interval:0.1},
        {...axisBase,axisLabel:yLabel,type:'value',gridIndex:1,min:2,max:7,interval:1,name:'Runs/Game',nameGap:28},
        {...mirror,type:'value',gridIndex:1,position:'right',min:2,max:7,interval:1}],
 legend:[{...legendBase,itemWidth:69,data:['BB/K vs Win Pct.',lineIcon('Linear Approx.')],left:857,top:324,padding:[8,7,7,9]},
         {...legendBase,itemWidth:70,data:['Runs/Game',lineIcon('Linear Approx. ')],left:185,top:542,padding:[7,1,6,7]}],
 series:[
  {name:'BB/K vs Win Pct.',type:'scatter',xAxisIndex:0,yAxisIndex:0,symbol:'circle',symbolSize:5.8,itemStyle:ring,data:bbkPoints,silent:true,z:2},
  {...fitLine,name:'Linear Approx.',xAxisIndex:0,yAxisIndex:0,data:fit1},
  {name:'Runs/Game',type:'scatter',xAxisIndex:2,yAxisIndex:2,symbol:'circle',symbolSize:5.8,itemStyle:ring,data:runPoints,silent:true,z:2},
  {...fitLine,name:'Linear Approx. ',xAxisIndex:2,yAxisIndex:2,data:fit2}
 ]
});
</script></body></html>
